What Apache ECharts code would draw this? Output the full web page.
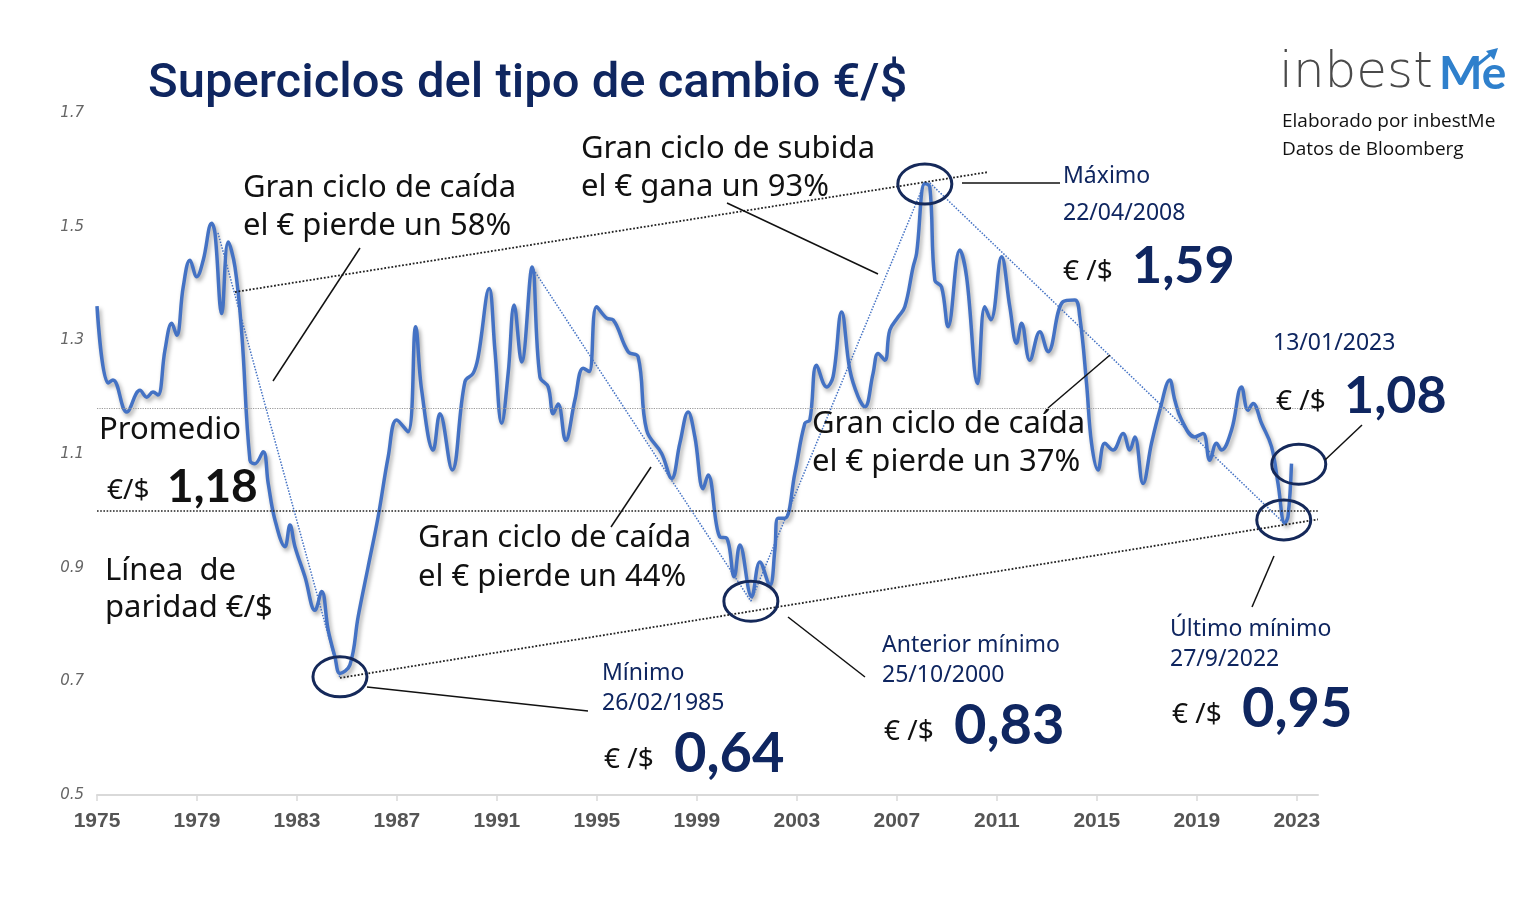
<!DOCTYPE html>
<html>
<head>
<meta charset="utf-8">
<script src="https://cdn.jsdelivr.net/npm/echarts@6/dist/echarts.min.js"></script>
<style>
  html, body { margin: 0; padding: 0; background: #fff; }
  #main { width: 1532px; height: 906px; }
</style>
</head>
<body>
<div id="main"></div>
<script>
// EUR/USD (year as decimal)
const years = [
  1975.0, 1975.44, 1975.64, 1976.19, 1976.72, 1976.99, 1977.24, 1977.44, 1977.72, 1977.99,
  1978.19, 1978.45, 1978.72, 1978.99, 1979.25, 1979.59, 1979.72, 1979.99, 1980.25, 1980.52,
  1980.79, 1981.12, 1981.32, 1981.65, 1981.85, 1982.12, 1982.52, 1982.72, 1982.92, 1983.32,
  1983.72, 1983.99, 1984.25, 1984.52, 1984.72, 1985.12, 1985.45, 1985.85, 1986.25, 1986.65,
  1986.99, 1987.44, 1987.75, 1987.99, 1988.45, 1988.72, 1989.21, 1989.72, 1990.05, 1990.25,
  1990.69, 1990.92, 1991.19, 1991.45, 1991.69, 1991.99, 1992.41, 1992.72, 1993.05, 1993.25,
  1993.45, 1993.75, 1994.12, 1994.45, 1994.69, 1994.99, 1995.39, 1995.65, 1996.25, 1996.65,
  1996.99, 1997.59, 1997.99, 1998.32, 1998.65, 1998.92, 1999.25, 1999.45, 1999.92, 2000.19,
  2000.49, 2000.72, 2001.19, 2001.52, 2001.92, 2002.12, 2002.25, 2002.52, 2002.92, 2003.32,
  2003.52, 2003.79, 2004.19, 2004.45, 2004.79, 2005.12, 2005.45, 2005.72, 2006.05, 2006.25,
  2006.52, 2006.72, 2007.05, 2007.32, 2007.65, 2007.79, 2008.12, 2008.32, 2008.52, 2008.79,
  2009.05, 2009.52, 2009.79, 2010.23, 2010.52, 2010.76, 2011.19, 2011.52, 2011.79, 2011.99,
  2012.32, 2012.72, 2013.05, 2013.65, 2014.12, 2014.32, 2014.59, 2014.79, 2015.05, 2015.32,
  2015.65, 2016.05, 2016.32, 2016.52, 2016.85, 2017.19, 2017.52, 2017.92, 2018.12, 2018.39,
  2018.92, 2019.25, 2019.52, 2019.79, 2019.99, 2020.39, 2020.79, 2021.05, 2021.25, 2021.59,
  2021.99, 2022.25, 2022.52, 2022.65, 2022.79
];
const rates = [
  1.36, 1.225, 1.23, 1.174, 1.212, 1.20, 1.209, 1.204, 1.283, 1.33,
  1.309, 1.394, 1.441, 1.412, 1.441, 1.506, 1.489, 1.347, 1.473, 1.429,
  1.313, 1.089, 1.083, 1.104, 1.048, 0.984, 0.937, 0.975, 0.937, 0.884,
  0.825, 0.858, 0.79, 0.743, 0.714, 0.729, 0.814, 0.902, 0.99, 1.095,
  1.16, 1.139, 1.324, 1.212, 1.107, 1.171, 1.072, 1.227, 1.242, 1.271,
  1.391, 1.283, 1.154, 1.242, 1.362, 1.262, 1.429, 1.236, 1.218, 1.171,
  1.188, 1.124, 1.195, 1.251, 1.245, 1.359, 1.339, 1.336, 1.28, 1.271,
  1.142, 1.101, 1.057, 1.119, 1.174, 1.13, 1.039, 1.063, 0.954, 0.952,
  0.884, 0.94, 0.849, 0.91, 0.869, 0.931, 0.987, 0.987, 1.066, 1.154,
  1.16, 1.256, 1.218, 1.236, 1.35, 1.248, 1.201, 1.183, 1.242, 1.277,
  1.265, 1.318, 1.341, 1.359, 1.429, 1.453, 1.576, 1.57, 1.406, 1.394,
  1.324, 1.459, 1.412, 1.224, 1.359, 1.336, 1.447, 1.359, 1.295, 1.33,
  1.265, 1.315, 1.28, 1.368, 1.371, 1.341, 1.224, 1.119, 1.072, 1.119,
  1.107, 1.136, 1.107, 1.13, 1.048, 1.119, 1.177, 1.23, 1.195, 1.16,
  1.13, 1.136, 1.089, 1.119, 1.107, 1.142, 1.218, 1.177, 1.189, 1.154,
  1.113, 1.048, 0.978, 0.99, 1.083
];

const yTicks = [0.5, 0.7, 0.9, 1.1, 1.3, 1.5, 1.7];
const average = 1.18;
const parity = 1.0;

// trend lines [year, rate] pairs
const upperTrend = [[1980.52, 1.385], [2010.64, 1.596]];
const lowerTrend = [[1984.72, 0.706], [2023.85, 0.985]];
const cycleLines = [
  [[1979.84, 1.489], [1984.72, 0.706]],
  [[1992.4, 1.429], [2001.16, 0.841]],
  [[2001.16, 0.841], [2008.12, 1.578]],
  [[2008.32, 1.577], [2022.52, 0.977]]
];
// circled points
const circled = [[1984.72, 0.708], [2001.16, 0.841], [2008.12, 1.575], [2023.08, 1.082], [2022.48, 0.984]];

const navy = '#0f2660';
const txtFont = '"Noto Sans", Lato, sans-serif';
const numFont = 'Lato, "Noto Sans", sans-serif';

const chart = echarts.init(document.getElementById('main'));

const lines = [];
lines.push({ yAxis: average, lineStyle: { color: '#9a9a9a', type: 'dotted', width: 1.2 } });
lines.push({ yAxis: parity, lineStyle: { color: '#222', type: 'dotted', width: 1.6 } });
[upperTrend, lowerTrend].forEach(t => {
  lines.push([{ coord: t[0], lineStyle: { color: '#222', type: 'dotted', width: 1.8 } }, { coord: t[1] }]);
});
cycleLines.forEach(t => {
  lines.push([{ coord: t[0], lineStyle: { color: '#4472c4', type: 'dotted', width: 1.5 } }, { coord: t[1] }]);
});

chart.setOption({
  backgroundColor: '#fff',
  animation: false,
  grid: { left: 97, right: 214, top: 113, bottom: 111 },
  xAxis: {
    type: 'value', min: 1975, max: 2023.85, interval: 4,
    axisLine: { lineStyle: { color: '#d9d9d9', width: 2 } },
    axisTick: { lineStyle: { color: '#d9d9d9', width: 1.5 }, length: 6 },
    splitLine: { show: false },
    axisLabel: {
      showMaxLabel: false, margin: 16,
      color: '#555', fontSize: 21, fontWeight: 'bold', fontFamily: '"Liberation Sans", Arial, sans-serif',
      formatter: v => Number.isInteger(v) ? String(v) : ''
    }
  },
  yAxis: {
    type: 'value', min: yTicks[0], max: yTicks[yTicks.length - 1], interval: 0.2,
    axisLine: { show: false }, axisTick: { show: false }, splitLine: { show: false },
    axisLabel: {
      margin: 13, color: '#666', fontSize: 15, fontStyle: 'italic',
      fontFamily: '"DejaVu Sans", sans-serif',
      formatter: v => v.toFixed(1)
    }
  },
  series: [{
    type: 'line',
    data: years.map((y, i) => [y, rates[i]]),
    smooth: 0.4,
    showSymbol: false,
    lineStyle: {
      color: '#4472c4', width: 3.5,
      shadowColor: 'rgba(0,0,0,0.35)', shadowBlur: 4, shadowOffsetX: 2, shadowOffsetY: 3
    },
    markLine: { silent: true, symbol: 'none', label: { show: false }, data: lines },
    z: 3
  }]
});

function txt(x, y, text, size, color, weight, font) {
  return {
    type: 'text', x: x, y: y, z: 10,
    style: { text: text, fontSize: size, fill: color, fontWeight: weight || 'normal',
      fontFamily: font || txtFont, verticalAlign: 'middle', align: 'left' }
  };
}
function seg(x1, y1, x2, y2) {
  return { type: 'line', z: 9, shape: { x1: x1, y1: y1, x2: x2, y2: y2 }, style: { stroke: '#111', lineWidth: 1.5 } };
}

const g = [];
// title
g.push({ type: 'text', x: 148, y: 85, style: { text: 'Superciclos del tipo de cambio €/$', fontSize: 49,
  fontWeight: 500, fill: navy, fontFamily: 'Roboto, sans-serif', verticalAlign: 'middle' } });
// logo
g.push({ type: 'text', x: 1279, y: 74, style: { text: 'inbest', fontSize: 50, fontWeight: 200, fill: '#4a4a4a',
  fontFamily: '"DejaVu Sans", sans-serif', verticalAlign: 'middle' } });
g.push({ type: 'text', x: 1439, y: 74, style: { text: 'Me', fontSize: 46, fontWeight: 'bold', fill: '#2f80cc',
  fontFamily: 'Lato, sans-serif', verticalAlign: 'middle' } });
g.push({ type: 'polyline', shape: { points: [[1476, 66], [1492, 53]] }, style: { stroke: '#2f80cc', lineWidth: 3 } });
g.push({ type: 'polygon', shape: { points: [[1486, 51], [1498, 48], [1494, 60]] }, style: { fill: '#2f80cc' } });
g.push({ type: 'text', x: 1282, y: 122, style: { text: 'Elaborado por inbestMe', fontSize: 19, fill: '#111',
  fontFamily: '"Open Sans", sans-serif', verticalAlign: 'middle' } });
g.push({ type: 'text', x: 1282, y: 150, style: { text: 'Datos de Bloomberg', fontSize: 19, fill: '#111',
  fontFamily: '"Open Sans", sans-serif', verticalAlign: 'middle' } });

// annotations
g.push(txt(243, 188, 'Gran ciclo de caída', 31, '#111'));
g.push(txt(243, 226, 'el € pierde un 58%', 31, '#111'));
g.push(txt(581, 149, 'Gran ciclo de subida', 31, '#111'));
g.push(txt(581, 187, 'el € gana un 93%', 31, '#111'));
g.push(txt(418, 538, 'Gran ciclo de caída', 31, '#111'));
g.push(txt(418, 577, 'el € pierde un 44%', 31, '#111'));
g.push(txt(812, 424, 'Gran ciclo de caída', 31, '#111'));
g.push(txt(812, 462, 'el € pierde un 37%', 31, '#111'));
g.push(txt(99, 430, 'Promedio', 31, '#111'));
g.push(txt(107, 491, '€/$', 28, '#111'));
g.push(txt(167, 487, '1,18', 46, '#111', 'bold', numFont));
g.push(txt(105, 571, 'Línea  de', 31, '#111'));
g.push(txt(105, 608, 'paridad €/$', 31, '#111'));

g.push(txt(1063, 176, 'Máximo', 23, navy));
g.push(txt(1063, 213, '22/04/2008', 23, navy));
g.push(txt(1063, 272, '€ /$', 28, '#111'));
g.push(txt(1132, 266, '1,59', 52, navy, 'bold', numFont));

g.push(txt(1273, 343, '13/01/2023', 23, navy));
g.push(txt(1276, 402, '€ /$', 28, '#111'));
g.push(txt(1344, 396, '1,08', 52, navy, 'bold', numFont));

g.push(txt(602, 673, 'Mínimo', 23, navy));
g.push(txt(602, 703, '26/02/1985', 23, navy));
g.push(txt(604, 760, '€ /$', 28, '#111'));
g.push(txt(674, 754, '0,64', 56, navy, 'bold', numFont));

g.push(txt(882, 645, 'Anterior mínimo', 23, navy));
g.push(txt(882, 675, '25/10/2000', 23, navy));
g.push(txt(884, 732, '€ /$', 28, '#111'));
g.push(txt(954, 726, '0,83', 56, navy, 'bold', numFont));

g.push(txt(1170, 629, 'Último mínimo', 23, navy));
g.push(txt(1170, 659, '27/9/2022', 23, navy));
g.push(txt(1172, 715, '€ /$', 28, '#111'));
g.push(txt(1242, 709, '0,95', 56, navy, 'bold', numFont));

// leader lines
g.push(seg(360, 248, 273, 381));
g.push(seg(727, 203, 878, 274));
g.push(seg(651, 467, 611, 527));
g.push(seg(1110, 355, 1048, 408));
g.push(seg(962, 183, 1060, 183));
g.push(seg(367, 687, 588, 711));
g.push(seg(788, 617, 865, 677));
g.push(seg(1274, 556, 1252, 607));
g.push(seg(1362, 425, 1325, 460));

// circles around key points
circled.forEach(p => {
  const c = chart.convertToPixel({ gridIndex: 0 }, p);
  g.push({ type: 'ellipse', z: 8, shape: { cx: c[0], cy: c[1], rx: 27, ry: 20 },
    style: { fill: 'none', stroke: '#15295a', lineWidth: 3 } });
});

chart.setOption({ graphic: g });
</script>
</body>
</html>
